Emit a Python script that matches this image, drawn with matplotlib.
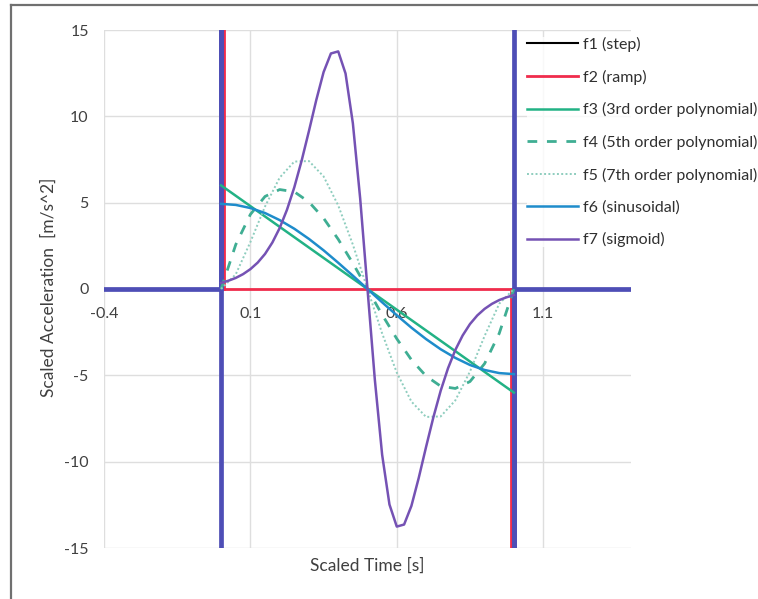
#! /usr/bin/env python3

import numpy as np
import matplotlib
matplotlib.use('Agg')
import matplotlib.pyplot as plt
import matplotlib.transforms as mtransforms
from matplotlib.lines import Line2D

plt.rcParams['font.family'] = ['Lato', 'DejaVu Sans']
plt.rcParams['axes.unicode_minus'] = False

# scaled time grid (fine grid used for the sigmoid)
t_fine = [0.0, 0.025, 0.05, 0.075, 0.1, 0.125, 0.15, 0.175, 0.2, 0.225,
          0.25, 0.275, 0.3, 0.325, 0.35, 0.375, 0.4, 0.425, 0.45, 0.475,
          0.5, 0.525, 0.55, 0.575, 0.6, 0.625, 0.65, 0.675, 0.7, 0.725,
          0.75, 0.775, 0.8, 0.825, 0.85, 0.875, 0.9, 0.925, 0.95, 0.975, 1.0]
t = t_fine[::2]

# f1 (step) and f2 (ramp): impulses at the ends
step_t = [-0.4, 0, 0, 0, np.nan, 1, 1, 1, 1.4]
step_a = [0, 0, 15, -15, np.nan, 15, -15, 0, 0]
ramp_t = [0, 0, 1, 1]
ramp_a = [15, 0, 0, -15]

f3 = [6.0, 5.4, 4.8, 4.2, 3.6, 3.0, 2.4, 1.8, 1.2, 0.6, 0.0,
      -0.6, -1.2, -1.8, -2.4, -3.0, -3.6, -4.2, -4.8, -5.4, -6.0]
f4 = [0.0, 2.57, 4.32, 5.36, 5.76, 5.63, 5.04, 4.10, 2.88, 1.49, 0.0,
      -1.49, -2.88, -4.10, -5.04, -5.63, -5.76, -5.36, -4.32, -2.57, 0.0]
f5 = [0.0, 0.85, 2.72, 4.78, 6.45, 7.38, 7.41, 6.52, 4.84, 2.57, 0.0,
      -2.57, -4.84, -6.52, -7.41, -7.38, -6.45, -4.78, -2.72, -0.85, 0.0]
f6 = [4.93, 4.87, 4.69, 4.40, 3.99, 3.49, 2.90, 2.24, 1.52, 0.77, 0.0,
      -0.77, -1.52, -2.24, -2.90, -3.49, -3.99, -4.40, -4.69, -4.87, -4.93]
f7 = [0.35, 0.48, 0.64, 0.86, 1.15, 1.53, 2.03, 2.69, 3.53, 4.59, 5.89,
      7.43, 9.15, 10.94, 12.56, 13.64, 13.76, 12.48, 9.60, 5.24, 0.0,
      -5.24, -9.60, -12.48, -13.76, -13.64, -12.56, -10.94, -9.15, -7.43,
      -5.89, -4.59, -3.53, -2.69, -2.03, -1.53, -1.15, -0.86, -0.64, -0.48, -0.35]

xticks = [-0.4, 0.1, 0.6, 1.1]
xticklabels = ['-0.4', '0.1', '0.6', '1.1']
yticks = [-15, -10, -5, 0, 5, 10, 15]

W, H = 758, 599
fig = plt.figure(figsize=(W/100, H/100), dpi=100)
ax = fig.add_axes([104/W, 1-548/H, (631-104)/W, (548-30)/H])

red = '#F02C4C'
ax.plot(step_t, step_a, color='black', lw=1.5, label='f1 (step)', zorder=2)
# ramp impulses peek out on the inner side of the blue lines
shift_r = ax.transData + mtransforms.ScaledTranslation(2.6/100, 0, fig.dpi_scale_trans)
shift_l = ax.transData + mtransforms.ScaledTranslation(-2.6/100, 0, fig.dpi_scale_trans)
ax.plot(ramp_t[:2], ramp_a[:2], color=red, lw=2.0, transform=shift_r, zorder=3)
ax.plot(ramp_t[2:], ramp_a[2:], color=red, lw=2.0, transform=shift_l, zorder=3)
ax.plot(ramp_t[1:3], ramp_a[1:3], color=red, lw=2.0, label='f2 (ramp)', zorder=3)
ax.plot(step_t, step_a, color='#4E4EB6', lw=3.4, zorder=4)
ax.plot(t, f3, color='#22B285', lw=1.8, label='f3 (3rd order polynomial)', zorder=5)
ax.plot(t, f4, color='#3FAE93', lw=2.0, ls=(0, (3.5, 3.5)), label='f4 (5th order polynomial)', zorder=5)
ax.plot(t, f5, color='#8ECDBE', lw=1.4, ls=(0, (1, 1.2)), label='f5 (7th order polynomial)', zorder=5)
ax.plot(t, f6, color='#1E8CCB', lw=1.8, label='f6 (sinusoidal)', zorder=5)
ax.plot(t_fine, f7, color='#7552B4', lw=1.8, label='f7 (sigmoid)', zorder=6)

ax.set_xlim(-0.4, 1.4)
ax.set_ylim(-15, 15)
ax.set_xticks(xticks)
ax.set_xticklabels(xticklabels)
ax.set_yticks(yticks)
ax.grid(True, color='#DEDEDE', lw=1.0)
ax.set_axisbelow(True)
for s in ax.spines.values():
    s.set_visible(False)
ax.spines['bottom'].set_position(('data', 0))
ax.tick_params(axis='x', length=0, pad=13, labelsize=11.5, colors='#404040')
ax.tick_params(axis='y', length=0, pad=11, labelsize=11.5, colors='#404040')

fig.text(367/W, 1-566/H, 'Scaled Time [s]', ha='center', va='center',
         fontsize=12.5, color='#404040')
fig.text(49/W, 1-287/H, 'Scaled Acceleration  [m/s^2]', ha='center', va='center',
         rotation=90, fontsize=12.5, color='#404040')

handles, labels = ax.get_legend_handles_labels()
leg = fig.legend(handles, labels, loc='upper left', bbox_to_anchor=(527/W, 1-37/H),
                 frameon=True, fontsize=11.5, handlelength=3.2, handletextpad=0.3,
                 labelspacing=1.1, borderaxespad=0, borderpad=0.0)
leg.get_frame().set_facecolor('white')
leg.get_frame().set_edgecolor('none')
for txt in leg.get_texts():
    txt.set_color('#303030')

# outer chart border (top and left edges visible)
fig.add_artist(Line2D([11/W, 11/W], [0, 1-5/H], color='#707070', lw=1.6))
fig.add_artist(Line2D([11/W, 1], [1-5/H, 1-5/H], color='#707070', lw=1.6))

fig.savefig('out.png', dpi=100)
